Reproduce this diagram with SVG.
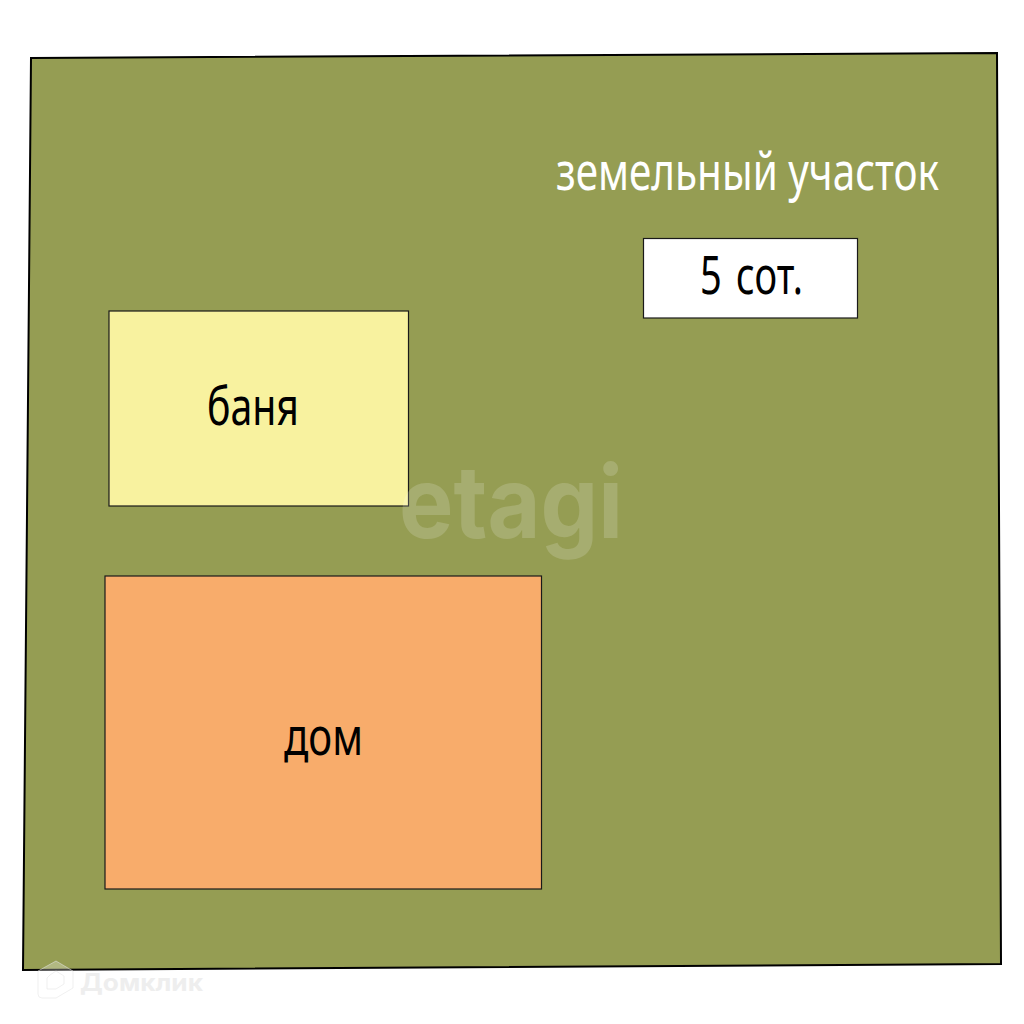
<svg xmlns="http://www.w3.org/2000/svg" width="1024" height="1024" viewBox="0 0 1024 1024">
<style>
.lbl{font-family:"Noto Sans","Liberation Sans",sans-serif;font-size:52px;fill:#000}
.box{stroke:#1a1a1a;stroke-width:1.2}
.wm{font-family:"Inter","Liberation Sans",sans-serif;font-weight:700}
</style>
<rect width="1024" height="1024" fill="#fff"/>
<g id="plot">
<polygon points="31,58 997,53 1001,964 23,970" fill="#959d53" stroke="#000" stroke-width="2"/>
<text transform="translate(556 190) scale(.78 1)" class="lbl" style="fill:#fff" textLength="491" lengthAdjust="spacingAndGlyphs">земельный участок</text>
</g>
<g id="area">
<rect x="643.500" y="238.500" width="214" height="79.500" fill="#fff" class="box"/>
<text x="700" y="294" class="lbl" word-spacing="6" textLength="103" lengthAdjust="spacingAndGlyphs">5 сот.</text>
</g>
<g id="banya">
<rect x="109" y="311" width="299.500" height="195" fill="#f8f29f" class="box"/>
<text x="207" y="425" class="lbl" textLength="92" lengthAdjust="spacingAndGlyphs">баня</text>
</g>
<g id="dom">
<rect x="105" y="576" width="436.500" height="313" fill="#f8ac6b" class="box"/>
<text x="284" y="755" class="lbl" textLength="79" lengthAdjust="spacingAndGlyphs">дом</text>
</g>
<g id="watermarks">
<text x="399" y="538" class="wm" font-size="100" fill="#fff" fill-opacity="0.17" textLength="224" lengthAdjust="spacingAndGlyphs">etagi</text>
<path d="M56 961 L73 971 L73 988 L56 998 L42 998 Q38 998 38 994 L38 971 Z M50 975 L47 978 L47 989 L56 989 L64 984 L64 976 L56 971 Z" fill="#fff" fill-opacity="0.28" stroke="#e4e4e4" stroke-opacity="0.55" fill-rule="evenodd"/>
<text x="80" y="991" class="wm" font-size="24" fill="#eeeeee" textLength="123" lengthAdjust="spacingAndGlyphs">Домклик</text>
</g>
</svg>
